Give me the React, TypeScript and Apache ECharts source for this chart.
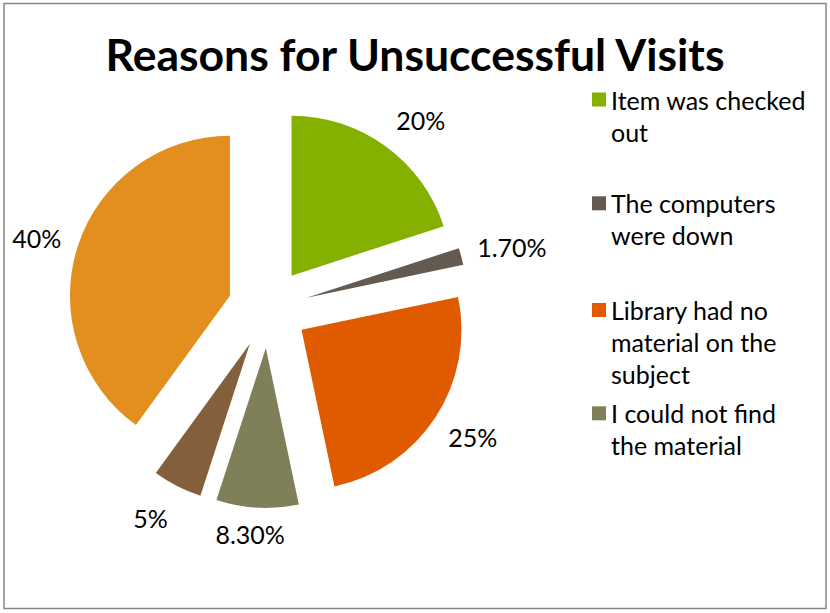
import React, { useEffect, useRef } from "react";
import * as echarts from "echarts";

const titleText = "Reasons for Unsuccessful Visits";
const categories = [
  "Item was checked out",
  "The computers were down",
  "Library had no material on the subject",
  "I could not find the material",
  "Reason 5",
  "Reason 6",
];
const values = [20, 1.7, 25, 8.3, 5, 40];
const colors = ["#84B000", "#645A50", "#E05A00", "#7F805A", "#845F3B", "#E28F1F"];
// legend shows only the first four entries, wrapped as in the reference
const legendLines = [
  ["Item was checked", "out"],
  ["The computers", "were down"],
  ["Library had no", "material on the", "subject"],
  ["I could not find", "the material"],
];
// small nudges of the percentage labels (style only)
const labelNudge = [
  [11, 7],
  [11, 1],
  [3, -3],
  [-5, -15],
  [-8, -5],
  [-2, 4],
];

const FONT = "Lato";
const LH = 32;
const legendFirstLineY = [99.5, 203.3, 310, 413.3];

const fmt = (v: number) => (Number.isInteger(v) ? `${v}%` : `${v.toFixed(2)}%`);

export default function App() {
  const ref = useRef<HTMLDivElement>(null);
  useEffect(() => {
    if (!ref.current) return;
    const chart = echarts.init(ref.current, null, { renderer: "svg" });
    const legends = legendLines.map((lines, i) => {
      const n = lines.length;
      // blank lines before the text keep the first line level with the icon
      const padded = Array(n - 1).fill(" ").concat(lines).join("\n");
      return {
        orient: "vertical",
        left: 592,
        top: legendFirstLineY[i] - ((2 * n - 1) * LH) / 2,
        padding: 0,
        itemWidth: 14,
        itemHeight: 14,
        icon: "rect",
        selectedMode: false,
        data: [categories[i]],
        formatter: () => padded,
        textStyle: {
          fontFamily: FONT,
          fontSize: 25,
          color: "#000",
          lineHeight: LH,
        },
      };
    });
    const option: any = {
      animation: false,
      backgroundColor: "#fff",
      title: {
        text: titleText,
        left: "center",
        top: 24,
        textStyle: { fontFamily: FONT, fontWeight: "bold", fontSize: 44.5, color: "#000", lineHeight: 48 },
      },
      legend: legends,
      graphic: [
        {
          type: "rect",
          shape: { x: 4, y: 3.5, width: 822, height: 605 },
          style: { fill: "none", stroke: "#868686", lineWidth: 1.5 },
          silent: true,
        },
      ],
      series: [
        {
          type: "pie",
          center: [268, 308],
          radius: [0, 160],
          startAngle: 90,
          clockwise: true,
          selectedMode: "multiple",
          selectedOffset: 40,
          silent: true,
          label: { show: false },
          labelLine: { show: false },
          emphasis: { disabled: true },
          data: values.map((v, i) => ({
            name: categories[i],
            value: v,
            selected: true,
            itemStyle: { color: colors[i] },
          })),
        },
        {
          type: "pie",
          center: [268, 308],
          radius: [178, 218],
          startAngle: 90,
          clockwise: true,
          selectedMode: "multiple",
          selectedOffset: 40,
          silent: true,
          emphasis: { disabled: true },
          itemStyle: { color: "rgba(0,0,0,0)" },
          labelLine: { show: false },
          label: {
            show: true,
            position: "inside",
            color: "#000",
            fontFamily: FONT,
            fontSize: 25,
            formatter: (p: any) => fmt(p.value),
          },
          labelLayout: (p: any) => ({ dx: labelNudge[p.dataIndex][0], dy: labelNudge[p.dataIndex][1] }),
          data: values.map((v, i) => ({
            name: categories[i],
            value: v,
            selected: true,
          })),
        },
      ],
    };
    chart.setOption(option);
    return () => chart.dispose();
  }, []);
  return <div ref={ref} style={{ position: "absolute", left: 0, top: 0, width: 830, height: 613 }} />;
}
